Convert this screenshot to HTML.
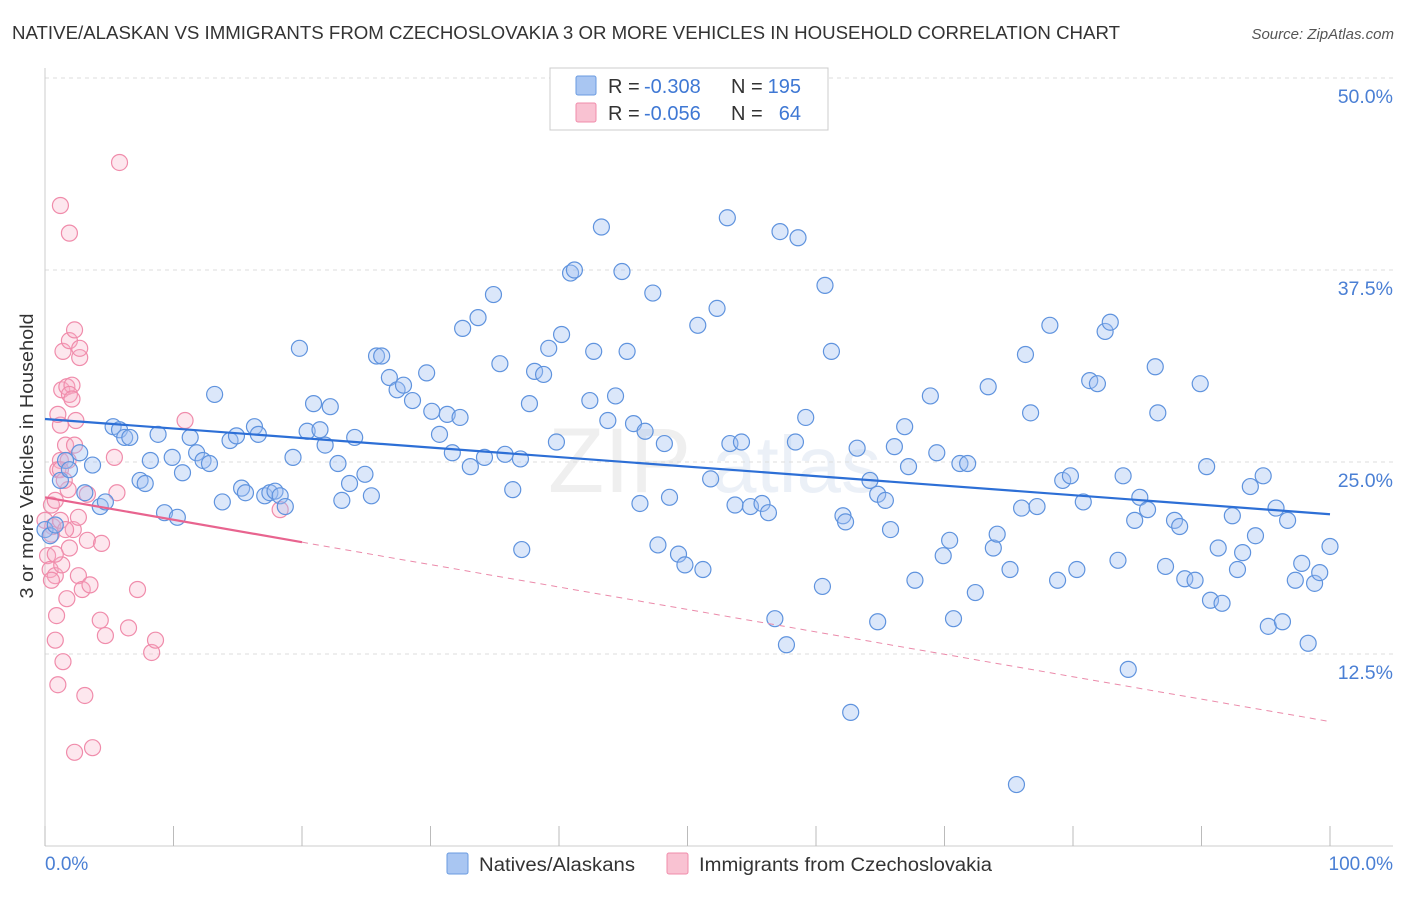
<!DOCTYPE html>
<html><head><meta charset="utf-8">
<style>
body{margin:0;background:#fff;font-family:"Liberation Sans",sans-serif;}
svg text{font-family:"Liberation Sans",sans-serif;}
</style></head>
<body>
<svg id="chart" width="1406" height="892" viewBox="0 0 1406 892" xmlns="http://www.w3.org/2000/svg">
<text x="12" y="39" font-size="18.5" fill="#333" textLength="1108" lengthAdjust="spacingAndGlyphs">NATIVE/ALASKAN VS IMMIGRANTS FROM CZECHOSLOVAKIA 3 OR MORE VEHICLES IN HOUSEHOLD CORRELATION CHART</text>
<text x="1394" y="39" font-size="15" fill="#555" font-style="italic" text-anchor="end">Source: ZipAtlas.com</text>
<g opacity="0.13">
<text x="548" y="492" font-size="92" fill="#888" font-family="Liberation Serif,serif">ZIP</text>
<text x="712" y="492" font-size="80" fill="#6a8fc8">atlas</text>
</g>
<g id="grid"></g>
<g id="axes"></g>
<g id="pts"></g>
<g id="trends"></g>
<text transform="translate(33,456) rotate(-90)" font-size="18" fill="#333" text-anchor="middle" textLength="285" lengthAdjust="spacingAndGlyphs">3 or more Vehicles in Household</text>
<text x="45" y="870" font-size="19" fill="#4a7fd4">0.0%</text>
<text x="1393" y="870" font-size="19" fill="#4a7fd4" text-anchor="end">100.0%</text>
<g>
<rect x="550" y="68" width="278" height="62" fill="#fff" stroke="#ccc"/>
<rect x="576" y="76" width="20" height="19" fill="#a9c6f2" stroke="#6a9be0" rx="2"/>
<rect x="576" y="103" width="20" height="19" fill="#f9c2d2" stroke="#f08cab" rx="2"/>
<text x="608" y="93" font-size="20" fill="#333">R =</text>
<text x="644" y="93" font-size="20" fill="#3f78d4">-0.308</text>
<text x="731" y="93" font-size="20" fill="#333">N =</text>
<text x="801" y="93" font-size="20" fill="#3f78d4" text-anchor="end">195</text>
<text x="608" y="120" font-size="20" fill="#333">R =</text>
<text x="644" y="120" font-size="20" fill="#3f78d4">-0.056</text>
<text x="731" y="120" font-size="20" fill="#333">N =</text>
<text x="801" y="120" font-size="20" fill="#3f78d4" text-anchor="end">64</text>
</g>
<g>
<rect x="447" y="853" width="21" height="21" fill="#a9c6f2" stroke="#6a9be0" rx="2"/>
<text x="479" y="871" font-size="19" fill="#333" textLength="156" lengthAdjust="spacingAndGlyphs">Natives/Alaskans</text>
<rect x="667" y="853" width="21" height="21" fill="#f9c2d2" stroke="#f08cab" rx="2"/>
<text x="699" y="871" font-size="19" fill="#333" textLength="293" lengthAdjust="spacingAndGlyphs">Immigrants from Czechoslovakia</text>
</g>
</svg>
<script>
const yTicks=[12.5,25,37.5,50];
const yTickLabels=["12.5%","25.0%","37.5%","50.0%"];
const xTicks=[0,10,20,30,40,50,60,70,80,90,100];
const blueX=[0,0.4,0.8,1.2,1.6,1.9,2.7,3.1,3.7,4.3,4.7,5.3,5.8,6.2,6.6,7.4,7.8,8.2,8.8,9.3,9.9,10.3,10.7,11.3,11.8,12.3,12.8,13.2,13.8,14.4,14.9,15.3,15.6,16.3,16.6,17.1,17.5,17.9,18.3,18.7,19.3,19.8,20.4,20.9,21.4,21.8,22.2,22.8,23.1,23.7,24.1,24.9,25.4,25.8,26.2,26.8,27.4,27.9,28.6,29.7,30.1,30.7,31.3,31.7,32.3,32.5,33.1,33.7,34.2,34.9,35.4,35.8,36.4,37.0,37.1,37.7,38.1,38.8,39.2,39.8,40.2,40.9,41.2,42.4,42.7,43.3,43.8,44.4,44.9,45.3,45.8,46.3,46.7,47.3,47.7,48.2,48.6,49.3,49.8,50.8,51.2,51.8,52.3,53.1,53.3,53.7,54.2,54.9,55.8,56.3,56.8,57.2,57.7,58.4,58.6,59.2,60.5,60.7,61.2,62.1,62.3,62.7,63.2,64.2,64.8,64.8,65.4,65.8,66.1,66.9,67.2,67.7,68.9,69.4,69.9,70.4,70.7,71.2,71.8,72.4,73.4,73.8,74.1,75.1,75.6,76.0,76.3,76.7,77.2,78.2,78.8,79.2,79.8,80.3,80.8,81.3,81.9,82.5,82.9,83.5,83.9,84.3,84.8,85.2,85.8,86.4,86.6,87.2,87.9,88.3,88.7,89.5,89.9,90.4,90.7,91.3,91.6,92.4,92.8,93.2,93.8,94.2,94.8,95.2,95.8,96.3,96.7,97.3,97.8,98.3,98.8,99.2,100];
const blueY=[20.6,20.2,20.9,23.8,25.1,24.5,25.6,23.0,24.8,22.1,22.4,27.3,27.1,26.6,26.6,23.8,23.6,25.1,26.8,21.7,25.3,21.4,24.3,26.6,25.6,25.1,24.9,29.4,22.4,26.4,26.7,23.3,23.0,27.3,26.8,22.8,23.0,23.1,22.8,22.1,25.3,32.4,27.0,28.8,27.1,26.1,28.6,24.9,22.5,23.6,26.6,24.2,22.8,31.9,31.9,30.5,29.7,30.0,29.0,30.8,28.3,26.8,28.1,25.6,27.9,33.7,24.7,34.4,25.3,35.9,31.4,25.5,23.2,25.2,19.3,28.8,30.9,30.7,32.4,26.3,33.3,37.3,37.5,29.0,32.2,40.3,27.7,29.3,37.4,32.2,27.5,22.3,27.0,36.0,19.6,26.2,22.7,19.0,18.3,33.9,18.0,23.9,35.0,40.9,26.2,22.2,26.3,22.1,22.3,21.7,14.8,40.0,13.1,26.3,39.6,27.9,16.9,36.5,32.2,21.5,21.1,8.7,25.9,23.8,22.9,14.6,22.5,20.6,26.0,27.3,24.7,17.3,29.3,25.6,18.9,19.9,14.8,24.9,24.9,16.5,29.9,19.4,20.3,18.0,4.0,22.0,32.0,28.2,22.1,33.9,17.3,23.8,24.1,18.0,22.4,30.3,30.1,33.5,34.1,18.6,24.1,11.5,21.2,22.7,21.9,31.2,28.2,18.2,21.2,20.8,17.4,17.3,30.1,24.7,16.0,19.4,15.8,21.5,18.0,19.1,23.4,20.2,24.1,14.3,22.0,14.6,21.2,17.3,18.4,13.2,17.1,17.8,19.5];
const pinkX=[0,0.2,0.4,0.5,0.6,0.8,0.8,0.9,1.0,1.2,1.2,1.2,1.3,1.4,1.4,1.6,1.7,1.8,1.9,1.9,1.9,2.1,2.2,2.3,2.3,2.4,2.6,2.6,2.7,2.7,2.9,3.1,3.3,3.3,3.5,3.7,4.3,4.4,4.7,5.4,5.6,5.8,6.5,7.2,8.3,8.6,10.9,18.3,0.8,1.0,0.5,1.2,1.3,1.6,1.9,2.1,2.3,1.0,0.5,0.8,1.8,1.7,1.2,1.5];
const pinkY=[21.2,18.9,18.0,22.2,20.8,13.4,17.6,15.0,10.5,41.7,27.4,25.1,29.7,32.2,12.0,26.1,29.9,23.2,19.4,39.9,32.9,30.0,20.6,6.1,33.6,27.7,17.6,21.4,31.8,32.4,16.7,9.8,22.9,19.9,17.0,6.4,14.7,19.7,13.7,25.3,23.0,44.5,14.2,16.7,12.6,13.4,27.7,21.9,22.5,24.5,20.3,21.2,18.3,20.6,29.4,29.1,26.1,28.1,17.3,19.0,25.1,16.1,24.5,23.8];
const blueTrend=[27.8,21.6];
const pinkTrend=[22.7,8.1];
const pinkSolidEnd=20;
const NS="http://www.w3.org/2000/svg";
const X0=45,X1=1330,Y0=846,YPER=15.36;
const sx=v=>X0+(X1-X0)*v/100;
const sy=v=>Y0-v*YPER;
function mk(t,a,p){const e=document.createElementNS(NS,t);for(const k in a)e.setAttribute(k,a[k]);p.appendChild(e);return e;}
const grid=document.getElementById('grid'),axes=document.getElementById('axes');
yTicks.forEach((t,i)=>{
  const l=mk('line',{x1:X0,x2:1393,y1:sy(t),y2:sy(t),stroke:'#dedede','stroke-dasharray':'4,4'},grid);
  
  
  const tx=mk('text',{x:1393,y:sy(t)+25,'font-size':19.5,fill:'#4a7fd4','text-anchor':'end'},grid);
  tx.textContent=yTickLabels[i];
  
  
});
const la=mk('line',{x1:X0,x2:X0,y1:68,y2:Y0,stroke:'#ccc'},axes);


const ba=mk('line',{x1:X0,x2:1393,y1:Y0,y2:Y0,stroke:'#ccc'},axes);


xTicks.forEach(t=>{
  const l=mk('line',{x1:sx(t),x2:sx(t),y1:Y0-20,y2:Y0,stroke:'#bbb'},axes);
  
  
});
const pts=document.getElementById('pts');
pinkX.forEach((x,i)=>{
  const c=mk('circle',{cx:sx(x),cy:sy(pinkY[i]),r:8,fill:'rgba(248,175,198,0.3)',stroke:'#f08cab','stroke-width':1.2},pts);
  
  
});
blueX.forEach((x,i)=>{
  const c=mk('circle',{cx:sx(x),cy:sy(blueY[i]),r:8,fill:'rgba(160,192,242,0.38)',stroke:'#5f93de','stroke-width':1.2},pts);
  
  
});
const tr=document.getElementById('trends');
const pAt=v=>pinkTrend[0]+(pinkTrend[1]-pinkTrend[0])*v/100;
const bl=mk('line',{x1:sx(0),y1:sy(blueTrend[0]),x2:sx(100),y2:sy(blueTrend[1]),stroke:'#2d6fd6','stroke-width':2.2},tr);


const ps=mk('line',{x1:sx(0),y1:sy(pAt(0)),x2:sx(pinkSolidEnd),y2:sy(pAt(pinkSolidEnd)),stroke:'#e8648f','stroke-width':2.2},tr);


const pd=mk('line',{x1:sx(pinkSolidEnd),y1:sy(pAt(pinkSolidEnd)),x2:sx(100),y2:sy(pAt(100)),stroke:'#eb8aaa','stroke-width':1,'stroke-dasharray':'6,5'},tr);


</script>
</body></html>
